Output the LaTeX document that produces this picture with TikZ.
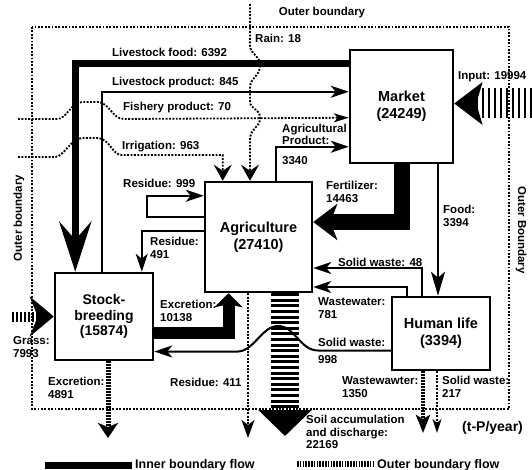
\documentclass[tikz,border=0pt]{standalone}
\usepackage{fontspec}
\setmainfont{Liberation Sans}
\usetikzlibrary{arrows.meta}
\begin{document}
\begin{tikzpicture}[x=1pt,y=-1pt,
  box/.style={draw, line width=2.5pt, fill=white, align=center, inner sep=0pt,
    font=\fontsize{14.5}{17}\selectfont\bfseries},
  lab/.style={anchor=west, align=left, inner sep=0pt,
    font=\fontsize{11.5}{12.5}\selectfont\bfseries},
  dots/.style={dash pattern=on 1.9pt off 1.5pt},
  thinflow/.style={line width=2pt, -{Stealth[length=18pt,width=12pt,inset=5pt]}},
  dotflow/.style={line width=1.9pt, dots, -{Stealth[length=16pt,width=18pt,inset=6pt]}},
  bound/.style={line width=1.8pt, dots}
]
\useasboundingbox (0,0) rectangle (532,470);

% boxes
\node[box, minimum width=103pt, minimum height=113pt] (mkt) at (401.5,106.5) {Market\\(24249)};
\node[box, minimum width=107pt, minimum height=110pt] (agri) at (258.5,237) {Agriculture\\(27410)};
\node[box, minimum width=98pt, minimum height=87pt, font=\fontsize{14}{15.5}\selectfont\bfseries] (stock) at (104,316.5) {Stock-\\breeding\\(15874)};
\node[box, minimum width=98pt, minimum height=73pt] (human) at (441,333.5) {Human life\\(3394)};

% outer boundary
\draw[bound] (32,27) rectangle (509,409);

% free ends
\coordinate (rainS) at (250,4);
\coordinate (fishS) at (18,119);
\coordinate (irrS) at (18,157);
\coordinate (grassS) at (12,316.5);
\coordinate (inS) at (532,103.5);
\coordinate (soilE) at (285,436);
\coordinate (resE) at (248,438);
\coordinate (excE) at (108,438);
\coordinate (wwE) at (423,433);
\coordinate (swE) at (437,433);
\coordinate (legA) at (45,465);
\coordinate (legB) at (132,465);
\coordinate (legC) at (297,464);
\coordinate (legD) at (373,464);

% livestock food (thick)
\draw[line width=7pt, -{Stealth[length=50pt,width=32pt,inset=18pt]}]
  ([yshift=-15pt]mkt.north west) -| ([xshift=21.5pt]stock.north west);
% livestock product
\draw[thinflow] ([xshift=48pt]stock.north west) |- ([yshift=-43pt]mkt.north west);
% fishery product
\draw[line width=1.8pt, dots, -{Stealth[length=15pt,width=9pt,inset=4pt]}]
  (fishS) -- (57,119) .. controls (67,119) and (70,103) .. (82,102)
  -- (98,102) .. controls (110,103) and (112,119) .. (124,119)
  -- ([yshift=-69pt]mkt.north west);
% irrigation
\draw[dotflow] (irrS) -- (55,157) .. controls (64,157) and (70,139) .. (82,138)
  -- (98,138) .. controls (110,139) and (112,155) .. (122,155)
  -| ([xshift=19pt]agri.north west);
% rain
\draw[dotflow] (rainS) -- (250,45) .. controls (250,55) and (260,55) .. (260,65)
  .. controls (260,77) and (250,77) .. (250,88) -- (250,101)
  .. controls (250,110) and (260,108) .. (260,118)
  .. controls (260,128) and (250,128) .. (250,140) -- ([xshift=-8.5pt]agri.north);
% agricultural product
\draw[thinflow] ([xshift=72pt]agri.north west) |- ([yshift=-98pt]mkt.north west);
% residue 999 loop
\draw[thinflow] ([yshift=-36pt]agri.north west) -- ++(-57,0) |- ([yshift=-15pt]agri.north west);
% residue 491
\draw[thinflow] ([yshift=-50pt]agri.north west) -| ([xshift=88pt]stock.north west);
% excretion 10138
\draw[line width=12pt, -{Stealth[length=14pt,width=28pt,inset=3pt]}]
  ([yshift=-16pt]stock.east) -| ([xshift=-30pt]agri.south);
% fertilizer
\draw[line width=16pt, -{Stealth[length=24pt,width=36pt,inset=7pt]}]
  (mkt.south) |- ([yshift=15pt]agri.east);
% food
\draw[line width=2pt, -{Stealth[length=24pt,width=14pt,inset=6pt]}]
  ([xshift=36.5pt]mkt.south) -- ([xshift=-3pt]human.north);
% solid waste 48
\draw[thinflow] ([xshift=-19pt]human.north) |- ([yshift=-31pt]agri.east);
% wastewater 781
\draw[thinflow] ([xshift=-34pt]human.north) |- ([yshift=-50pt]agri.east);
% residue 411
\draw[line width=2.3pt, dots, -{Stealth[length=18pt,width=13pt,inset=5pt]}]
  ([xshift=-10.5pt]agri.south) -- (resE);
% soil accumulation (outer flow)
\draw[line width=28pt, dash pattern=on 3pt off 2.6pt, -{Triangle[length=26pt,width=52pt]}]
  ([xshift=26.5pt]agri.south) -- (soilE);
% solid waste 998
\draw[thinflow] ([yshift=-17pt]human.west) -- (318,350.5)
  .. controls (300,350.5) and (295,326) .. (278,326)
  .. controls (262,326) and (254,351) .. (238,351.5) -- ([yshift=-35pt]stock.east);
% excretion 4891
\draw[line width=5pt, dash pattern=on 1.5pt off 1.5pt, -{Stealth[length=15pt,width=20pt,inset=4pt]}]
  ([xshift=4pt]stock.south) -- (excE);
% wastewater 1350
\draw[line width=4pt, dash pattern=on 1.5pt off 1.5pt, -{Stealth[length=18pt,width=14pt,inset=4pt]}]
  ([xshift=-18pt]human.south) -- (wwE);
% solid waste 217
\draw[line width=1.7pt, dots, -{Stealth[length=14pt,width=9pt,inset=4pt]}]
  ([xshift=-4pt]human.south) -- (swE);
% grass
\draw[line width=10pt, dash pattern=on 2pt off 2pt, -{Stealth[length=24pt,width=40pt,inset=8pt]}]
  (grassS) -- (stock.west);
% input
\draw[line width=30pt, dash pattern=on 2.5pt off 3.5pt, -{Stealth[length=28pt,width=42pt,inset=6pt]}]
  (inS) -- ([yshift=3pt]mkt.east);

% legend
\draw[line width=7pt] (legA) -- (legB);
\draw[line width=6pt, dash pattern=on 1.6pt off 1.2pt] (legC) -- (legD);
\node[lab, font=\fontsize{12.5}{14}\selectfont\bfseries] (legT1) at (135,465) {Inner boundary flow};
\node[lab, font=\fontsize{12.5}{14}\selectfont\bfseries] (legT2) at (377,465) {Outer boundary flow};

% labels
\node[anchor=center, inner sep=0pt, font=\fontsize{11.5}{12.5}\selectfont\bfseries] (tOut) at (322,13) {Outer boundary};
\node[lab] (tRain) at (255,38) {Rain: 18};
\node[lab] (tLF) at (112,52) {Livestock food: 6392};
\node[lab] (tLP) at (112,83) {Livestock product: 845};
\node[lab] (tFP) at (123,108) {Fishery product: 70};
\node[lab] (tIrr) at (122,147) {Irrigation: 963};
\node[lab] (tIn) at (458,77) {Input: 19994};
\node[lab, font=\fontsize{11.5}{12}\selectfont\bfseries] (tAP) at (282,134) {Agricultural\\Product:};
\node[lab] (tAP2) at (282,161) {3340};
\node[lab] (tR999) at (123,183) {Residue: 999};
\node[lab] (tFert) at (326,192) {Fertilizer:\\14463};
\node[lab] (tFood) at (443,216) {Food:\\3394};
\node[lab] (tR491) at (150,248) {Residue:\\491};
\node[lab] (tSW48) at (338,262) {Solid waste: 48};
\node[lab] (tWW781) at (318,308) {Wastewater:\\781};
\node[lab] (tExc1) at (160,311) {Excretion:\\10138};
\node[lab] (tGrass) at (13,347) {Grass:\\7993};
\node[lab] (tSW998) at (318,351) {Solid waste:\\[5pt]998};
\node[lab] (tExc2) at (48,388) {Excretion:\\4891};
\node[lab] (tR411) at (170,382) {Residue: 411};
\node[lab] (tWW1350) at (342,387) {Wastewawter:\\1350};
\node[lab] (tSW217) at (442,387) {Solid waste:\\217};
\node[lab] (tSoil) at (306,432) {Soil accumulation\\and discharge:\\22169};
\node[lab, font=\fontsize{14}{15}\selectfont\bfseries] (tUnit) at (462,428) {(t-P/year)};
\node[inner sep=0pt, rotate=90, font=\fontsize{11.5}{12.5}\selectfont\bfseries] (tOutL) at (19,218) {Outer boundary};
\node[inner sep=0pt, rotate=-90, font=\fontsize{11.5}{12.5}\selectfont\bfseries] (tOutR) at (521,230) {Outer Boundary};
\end{tikzpicture}
\end{document}
